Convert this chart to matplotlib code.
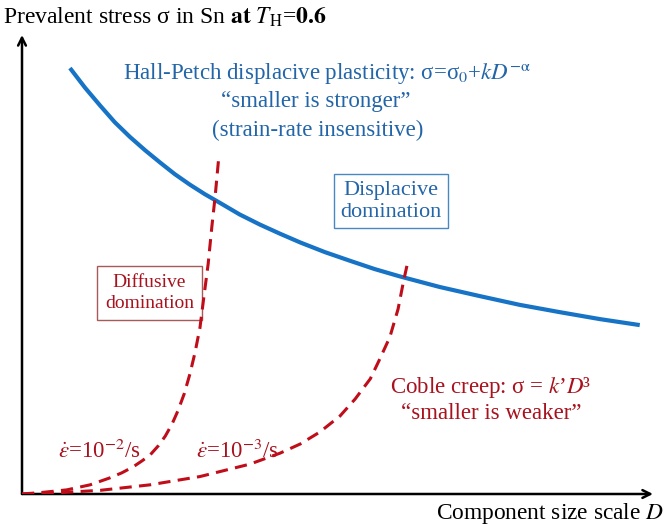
import matplotlib.pyplot as plt

plt.rcParams['font.family'] = ['Liberation Serif', 'DejaVu Serif']
plt.rcParams['mathtext.fontset'] = 'stix'

# schematic curves, arbitrary units (D: 0-10, stress: 0-10)
hp_D = [0.76, 1.00, 1.24, 1.47, 1.71, 1.95, 2.19, 2.42, 2.66, 2.90,
        3.14, 3.45, 3.77, 4.09, 4.41, 4.80, 5.20, 5.59, 5.99, 6.62,
        7.26, 7.89, 8.53, 9.16, 9.79]
hp_sigma = [9.28, 8.85, 8.46, 8.10, 7.78, 7.49, 7.22, 6.97, 6.74, 6.53,
            6.34, 6.09, 5.87, 5.67, 5.48, 5.27, 5.08, 4.90, 4.74, 4.51,
            4.31, 4.12, 3.96, 3.81, 3.68]

# strain rate 1e-2 /s
coble2_D = [0.0, 0.29, 0.71, 1.08, 1.39, 1.58, 1.76, 1.90, 2.03, 2.16,
            2.27, 2.38, 2.47, 2.57, 2.66, 2.74, 2.82, 2.88, 2.95, 3.01,
            3.06, 3.12]
coble2_sigma = [0.0, 0.03, 0.09, 0.20, 0.35, 0.46, 0.59, 0.72, 0.85, 1.05,
                1.26, 1.53, 1.81, 2.18, 2.61, 3.07, 3.62, 4.27, 5.01, 5.84,
                6.47, 7.36]

# strain rate 1e-3 /s
coble3_D = [0.0, 0.60, 1.24, 2.03, 2.82, 3.61, 4.09, 4.41, 4.72, 5.04,
            5.28, 5.52, 5.67, 5.83, 5.96, 6.05, 6.10]
coble3_sigma = [0.0, 0.03, 0.08, 0.20, 0.38, 0.65, 0.89, 1.09, 1.35, 1.70,
                2.07, 2.51, 2.94, 3.42, 4.03, 4.66, 4.97]

blue = '#1673c5'
blue_txt = '#2265a8'
red = '#c00d1a'
red_txt = '#a8121e'

fig = plt.figure(figsize=(6.67, 5.24), dpi=100)
ax = fig.add_axes([22 / 667, 30 / 524, 631 / 667, 459 / 524])
ax.set_xlim(0, 10)
ax.set_ylim(0, 10)
ax.axis('off')

# axes arrows
arrow = dict(arrowstyle='->', lw=1.8, color='black', mutation_scale=14, shrinkA=0, shrinkB=0)
ax.annotate('', xy=(0, 1), xytext=(0, 0), xycoords='axes fraction', arrowprops=arrow)
ax.annotate('', xy=(1, 0), xytext=(0, 0), xycoords='axes fraction', arrowprops=arrow)

ax.plot(hp_D, hp_sigma, color=blue, lw=3, solid_capstyle='butt', zorder=3)
ax.plot(coble2_D, coble2_sigma, color=red, lw=2.2, dashes=(4, 2.4), zorder=4)
ax.plot(coble3_D, coble3_sigma, color=red, lw=2.2, dashes=(4, 2.4), zorder=4)

fs = 16.5
ax.text(1.60, 9.17, r'Hall-Petch displacive plasticity: σ=σ$_0$+$kD^{-\mathrm{\alpha}}$',
        color=blue_txt, fontsize=fs, ha='left', va='center')
ax.text(4.66, 8.56, '“smaller is stronger”', color=blue_txt, fontsize=fs,
        ha='center', va='center')
ax.text(4.69, 7.93, '(strain-rate insensitive)', color=blue_txt, fontsize=fs,
        ha='center', va='center')

ax.text(5.85, 6.38, 'Displacive\ndomination', color=blue_txt, fontsize=16,
        ha='center', va='center', linespacing=1.2,
        bbox=dict(boxstyle='square,pad=0.3', fc='white', ec='#4a86c0', lw=1))
ax.text(2.02, 4.38, 'Diffusive\ndomination', color=red_txt, fontsize=14,
        ha='center', va='center', linespacing=1.35,
        bbox=dict(boxstyle='square,pad=0.4', fc='white', ec='#a85a5a', lw=1))

ax.text(5.83, 2.32, "Coble creep: σ = $k$’$D$³", color=red_txt, fontsize=fs,
        ha='left', va='center')
ax.text(7.43, 1.76, '“smaller is weaker”', color=red_txt, fontsize=fs,
        ha='center', va='center')

ax.text(1.22, 0.92, r'$\dot{\varepsilon}$=10$^{-2}$/s', color=red_txt, fontsize=fs,
        ha='center', va='center')
ax.text(3.41, 0.92, r'$\dot{\varepsilon}$=10$^{-3}$/s', color=red_txt, fontsize=fs,
        ha='center', va='center')

fig.text(3 / 667, 1 - 17 / 524,
         r'Prevalent stress σ in Sn $\mathbf{at}$ $T_{\mathrm{H}}$=$\mathbf{0.6}$',
         fontsize=17, ha='left', va='center')
fig.text(664 / 667, 1 - 513 / 524, 'Component size scale $D$',
         fontsize=16.8, ha='right', va='center')

fig.savefig('out.png', dpi=100)
